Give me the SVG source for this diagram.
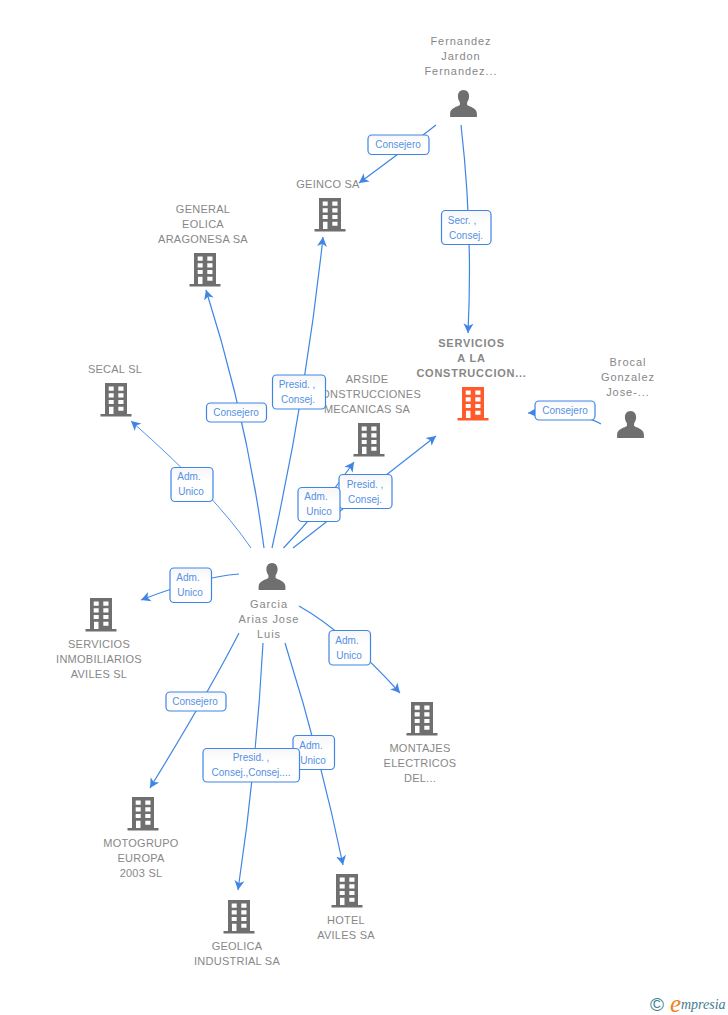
<svg xmlns="http://www.w3.org/2000/svg" width="728" height="1015" viewBox="0 0 728 1015">
<style>
text{font-family:"Liberation Sans",Arial,sans-serif}
.n{font-size:11px;fill:#878787;text-anchor:middle;letter-spacing:.95px}
.u{letter-spacing:.25px}
.b{font-weight:bold;letter-spacing:.75px}
.l{font-size:10px;fill:#5590e4;text-anchor:middle}
.box{fill:url(#bg);stroke:#3f85e6;stroke-width:1.2}
.c{fill:none;stroke:#3f85e6;stroke-width:1.2;marker-end:url(#a)}
.t{stroke-width:.9}
</style>
<defs>
<linearGradient id="bg" x1="0" y1="0" x2="0" y2="1"><stop offset="0" stop-color="#f6f6f8"/><stop offset=".4" stop-color="#fff"/></linearGradient>
<marker id="a" markerUnits="userSpaceOnUse" markerWidth="11" markerHeight="12" refX="9.5" refY="5.500" orient="auto" viewBox="0 0 11 11"><path d="M9.5 5.500L0 .5 2.600 5.500 0 10.500Z" fill="#3f85e6"/></marker>
<g id="bld">
<path fill-rule="evenodd" d="M-11 0H11V31H15.500V33.500H-15.500V31H-11ZM-7.300 3.500V7.700H-2.300V3.500ZM2.300 3.500V7.700H7.500V3.500ZM-7.300 10.300V14.500H-2.300V10.300ZM2.300 10.300V14.500H7.500V10.300ZM-7.300 17V21H-2.300V17ZM2.300 17V21H7.500V17ZM-7 23.700V31H-2.500V23.700ZM2.300 23.700V27.700H7.500V23.700Z"/>
</g>
<path id="per" fill="#6f6f6f" d="M0 0C3.600 0 5.600 2.800 5.600 6.200 5.600 8.600 4.800 10.600 3.600 12.200V15C5.500 16.600 13.400 17.600 13.400 23.500V27H-13.400V23.500C-13.400 17.600-5.500 16.600-3.600 15V12.200C-4.800 10.600-5.600 8.600-5.600 6.200-5.600 2.800-3.600 0 0 0Z"/>
</defs>
<rect width="728" height="1015" fill="#fff"/>
<g id="node-fernandez"><text class="n" x="461" y="45">Fernandez</text><text class="n" x="461" y="60">Jardon</text><text class="n" x="461" y="75">Fernandez...</text><use href="#per" x="463.500" y="90"/></g>
<g id="node-geinco"><text class="n u" x="328" y="188">GEINCO SA</text><use href="#bld" x="330" y="198" fill="#6f6f6f"/></g>
<g id="node-general"><text class="n u" x="203" y="213">GENERAL</text><text class="n u" x="203" y="228">EOLICA</text><text class="n u" x="203" y="243">ARAGONESA SA</text><use href="#bld" x="205" y="253" fill="#6f6f6f"/></g>
<g id="node-secal"><text class="n u" x="115" y="373">SECAL SL</text><use href="#bld" x="116" y="383" fill="#6f6f6f"/></g>
<g id="node-arside"><text class="n u" x="367" y="383">ARSIDE</text><text class="n u" x="367" y="398">CONSTRUCCIONES</text><text class="n u" x="367" y="413">MECANICAS SA</text><use href="#bld" x="369" y="423" fill="#6f6f6f"/></g>
<g id="node-servicios"><text class="n b" x="471.500" y="346.500">SERVICIOS</text><text class="n b" x="471.500" y="361.500">A LA</text><text class="n b" x="471.500" y="376.500">CONSTRUCCION...</text><use href="#bld" x="473" y="387" fill="#ff5a2b"/></g>
<g id="node-brocal"><text class="n" x="628" y="366">Brocal</text><text class="n" x="628" y="381">Gonzalez</text><text class="n" x="628" y="396">Jose-...</text><use href="#per" x="630.500" y="411"/></g>
<g id="node-garcia"><use href="#per" x="272" y="563"/><text class="n" x="269" y="608">Garcia</text><text class="n" x="269" y="623">Arias Jose</text><text class="n" x="269" y="638">Luis</text></g>
<g id="node-inmobiliarios"><use href="#bld" x="101" y="598" fill="#6f6f6f"/><text class="n u" x="99" y="648">SERVICIOS</text><text class="n u" x="99" y="663">INMOBILIARIOS</text><text class="n u" x="99" y="678">AVILES SL</text></g>
<g id="node-montajes"><use href="#bld" x="422" y="702" fill="#6f6f6f"/><text class="n u" x="420" y="752">MONTAJES</text><text class="n u" x="420" y="767">ELECTRICOS</text><text class="n u" x="420" y="782">DEL...</text></g>
<g id="node-motogrupo"><use href="#bld" x="143" y="797" fill="#6f6f6f"/><text class="n u" x="141" y="847">MOTOGRUPO</text><text class="n u" x="141" y="862">EUROPA</text><text class="n u" x="141" y="877">2003 SL</text></g>
<g id="node-geolica"><use href="#bld" x="239" y="900" fill="#6f6f6f"/><text class="n u" x="237" y="950">GEOLICA</text><text class="n u" x="237" y="965">INDUSTRIAL SA</text></g>
<g id="node-hotel"><use href="#bld" x="347" y="874" fill="#6f6f6f"/><text class="n u" x="346" y="924">HOTEL</text><text class="n u" x="346" y="939">AVILES SA</text></g>
<g id="connectors">
<path class="c" d="M436 125Q400 153 359 183"/>
<path class="c" d="M461 125Q473 229 468 333"/>
<path class="c" d="M272 548Q306.500 392 323 237"/>
<path class="c" d="M264 548Q247 419 206 290"/>
<path class="c t" d="M251 548Q215 495 131 421"/>
<path class="c" d="M283.500 548Q320 510 354 462"/>
<path class="c" d="M293 548L436 436"/>
<path class="c" d="M239 574Q200 577 141 600"/>
<path class="c" d="M299 606Q345 632 400 693"/>
<path class="c" d="M239 633Q210 690 150 788"/>
<path class="c" d="M263 643Q256.500 766 238 890"/>
<path class="c" d="M285 643Q320 754 343 865"/>
<path class="c" d="M601 424Q575 410 528 413"/>
</g>
<g id="labels">
<g><rect class="box" x="368" y="135" width="61" height="19.500" rx="4"/><text class="l" x="398" y="148">Consejero</text></g>
<g><rect class="box" x="441.500" y="210.500" width="49.500" height="34" rx="4"/><text class="l" x="462" y="224">Secr. ,</text><text class="l" x="466" y="239">Consej.</text></g>
<g><rect class="box" x="206.500" y="403" width="60" height="19" rx="4"/><text class="l" x="236" y="416">Consejero</text></g>
<g><rect class="box" x="272.500" y="375" width="53" height="34" rx="4"/><text class="l" x="297" y="388">Presid. ,</text><text class="l" x="298" y="403">Consej.</text></g>
<g><rect class="box" x="171" y="467.500" width="42" height="34" rx="4"/><text class="l" x="189" y="480">Adm.</text><text class="l" x="191" y="495">Unico</text></g>
<g><rect class="box" x="339" y="474.500" width="53" height="34" rx="4"/><text class="l" x="365" y="488">Presid. ,</text><text class="l" x="365" y="503">Consej.</text></g>
<g><rect class="box" x="298" y="487.500" width="42" height="34" rx="4"/><text class="l" x="316" y="500">Adm.</text><text class="l" x="319" y="515">Unico</text></g>
<g><rect class="box" x="170" y="568" width="41.500" height="34.500" rx="4"/><text class="l" x="188" y="581">Adm.</text><text class="l" x="190" y="596">Unico</text></g>
<g><rect class="box" x="329" y="630.500" width="41.500" height="34.500" rx="4"/><text class="l" x="347" y="644">Adm.</text><text class="l" x="349" y="659">Unico</text></g>
<g><rect class="box" x="166" y="692" width="60" height="19" rx="4"/><text class="l" x="195" y="705">Consejero</text></g>
<g><rect class="box" x="293" y="735.500" width="41.500" height="34" rx="4"/><text class="l" x="311" y="749">Adm.</text><text class="l" x="313" y="764">Unico</text></g>
<g><rect class="box" x="203" y="748.500" width="96.500" height="33.500" rx="4"/><text class="l" x="251" y="761">Presid. ,</text><text class="l" x="251" y="776">Consej.,Consej....</text></g>
<g><rect class="box" x="535" y="401" width="60" height="19" rx="4"/><text class="l" x="565" y="414">Consejero</text></g>
</g>
<g id="logo"><text x="650" y="1011" font-size="19" fill="#3d7d94">©</text><text x="670" y="1012" font-size="25" font-style="italic" style="font-family:'Liberation Serif',serif" fill="#f08020">e</text><text x="681" y="1009" font-size="14" font-style="italic" style="font-family:'Liberation Serif',serif" fill="#3d7d94">mpresia</text></g>
</svg>
